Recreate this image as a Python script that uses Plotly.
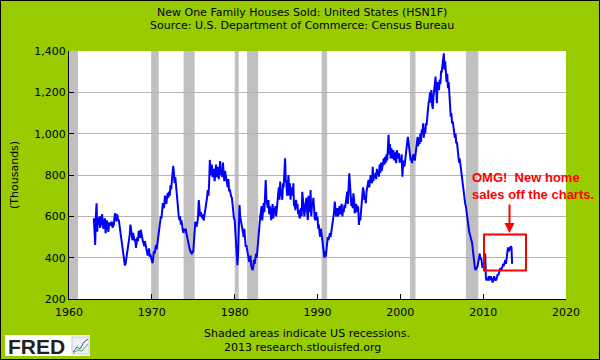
import pandas as pd
import plotly.graph_objects as go

# ---- data (monthly, thousands, SAAR) ----
sales_by_year = {
    1963: [591, 464, 461, 605, 663, 526, 590, 560, 600, 545, 560, 595],
    1964: [610, 560, 540, 575, 590, 518, 560, 580, 555, 525, 560, 570],
    1965: [555, 570, 575, 545, 560, 560, 600, 615, 590, 575, 610, 580],
    1966: [585, 560, 545, 500, 470, 450, 430, 400, 380, 362, 372, 395],
    1967: [400, 430, 470, 490, 510, 560, 530, 500, 485, 520, 500, 480],
    1968: [490, 447, 470, 500, 480, 530, 520, 495, 535, 510, 490, 480],
    1969: [470, 455, 480, 460, 440, 420, 410, 430, 445, 405, 415, 400],
    1970: [385, 373, 400, 430, 420, 445, 460, 440, 470, 485, 500, 530],
    1971: [560, 600, 590, 620, 664, 640, 650, 700, 680, 660, 690, 713],
    1972: [690, 720, 700, 750, 730, 780, 800, 844, 810, 760, 790, 740],
    1973: [700, 660, 640, 600, 582, 600, 560, 580, 545, 530, 520, 540],
    1974: [530, 540, 519, 500, 480, 470, 450, 440, 430, 425, 418, 430],
    1975: [430, 480, 555, 574, 560, 550, 570, 600, 679, 620, 600, 620],
    1976: [600, 590, 610, 580, 600, 620, 650, 660, 690, 727, 700, 760],
    1977: [873, 800, 820, 850, 790, 810, 830, 770, 800, 850, 790, 820],
    1978: [840, 780, 820, 868, 800, 830, 790, 860, 810, 770, 820, 800],
    1979: [790, 760, 740, 780, 720, 730, 700, 695, 690, 650, 600, 590],
    1980: [582, 520, 470, 400, 364, 420, 520, 655, 600, 580, 560, 540],
    1981: [520, 500, 540, 480, 453, 460, 440, 420, 400, 380, 390, 410],
    1982: [360, 345, 340, 355, 390, 370, 390, 420, 400, 450, 480, 520],
    1983: [550, 600, 620, 650, 580, 640, 664, 620, 700, 776, 680, 650],
    1984: [640, 679, 610, 650, 600, 582, 620, 660, 590, 640, 610, 650],
    1985: [600, 630, 680, 700, 740, 680, 768, 700, 720, 680, 760, 740],
    1986: [800, 881, 780, 760, 700, 740, 800, 700, 760, 680, 740, 720],
    1987: [700, 760, 650, 660, 630, 680, 640, 660, 610, 630, 590, 600],
    1988: [640, 600, 719, 680, 650, 600, 640, 660, 690, 620, 582, 700],
    1989: [640, 620, 727, 600, 660, 650, 690, 610, 590, 582, 620, 580],
    1990: [598, 540, 560, 520, 501, 540, 510, 480, 450, 420, 400, 430],
    1991: [405, 440, 480, 500, 485, 510, 518, 500, 520, 550, 580, 600],
    1992: [620, 671, 640, 600, 610, 640, 600, 620, 650, 610, 640, 660],
    1993: [600, 630, 620, 655, 640, 680, 700, 720, 660, 780, 808, 760],
    1994: [700, 650, 690, 640, 711, 680, 615, 640, 660, 620, 650, 640],
    1995: [558, 600, 580, 620, 680, 700, 740, 720, 680, 700, 663, 720],
    1996: [740, 760, 776, 740, 760, 800, 780, 760, 840, 770, 800, 790],
    1997: [810, 780, 830, 800, 820, 792, 850, 810, 860, 820, 840, 870],
    1998: [880, 850, 888, 860, 900, 870, 920, 994, 900, 950, 880, 930],
    1999: [900, 880, 921, 870, 910, 890, 857, 920, 890, 880, 905, 860],
    2000: [880, 860, 900, 792, 850, 870, 840, 880, 900, 920, 960, 985],
    2001: [950, 921, 900, 870, 880, 857, 890, 900, 880, 870, 900, 940],
    2002: [960, 985, 940, 980, 950, 1000, 960, 1020, 1000, 1050, 980, 1030],
    2003: [1000, 1050, 1040, 1090, 1100, 1150, 1160, 1200, 1150, 1211, 1140, 1120],
    2004: [1180, 1200, 1240, 1276, 1200, 1147, 1250, 1230, 1211, 1260, 1240, 1300],
    2005: [1300, 1330, 1370, 1389, 1310, 1350, 1300, 1250, 1290, 1220, 1250, 1180],
    2006: [1150, 1082, 1100, 1050, 1060, 1020, 1000, 980, 1000, 953, 960, 930],
    2007: [900, 860, 880, 850, 808, 780, 760, 720, 700, 680, 660, 647],
    2008: [620, 600, 560, 540, 520, 510, 500, 485, 470, 440, 400, 380],
    2009: [350, 340, 345, 355, 360, 380, 410, 420, 390, 400, 380, 350],
    2010: [360, 350, 400, 420, 300, 290, 300, 290, 310, 290, 300, 310],
    2011: [300, 290, 280, 300, 310, 290, 295, 290, 310, 320, 315, 330],
    2012: [330, 350, 340, 345, 356, 370, 360, 375, 389, 370, 395, 400],
    2013: [450, 430, 440, 453, 455, 450, 370],
}
recession_starts = ["1960-01-01", "1969-12-01", "1973-11-01", "1980-01-01",
                    "1981-07-01", "1990-07-01", "2001-03-01", "2007-12-01"]
recession_ends = ["1961-02-01", "1970-11-01", "1975-03-01", "1980-07-01",
                  "1982-11-01", "1991-03-01", "2001-11-01", "2009-06-01"]
x_tick_years = [1960, 1970, 1980, 1990, 2000, 2010, 2020]
y_ticks = [200, 400, 600, 800, 1000, 1200, 1400]

values = [v for yr in sorted(sales_by_year) for v in sales_by_year[yr]]
dates = pd.date_range("1963-01-01", periods=len(values), freq="MS")

# ---- geometry helpers (pixel -> paper) ----
W, H = 600, 360
PL, PR, PT, PB = 69, 566, 51, 299
def pxx(x):
    return (x - PL) / (PR - PL)
def pxy(y):
    return (PB - y) / (PB - PT)

FONT = "DejaVu Sans"
GREEN = "#99CC00"

fig = go.Figure()
fig.add_trace(go.Scatter(x=dates, y=values, mode="lines",
                         line=dict(color="#0000FF", width=2), hoverinfo="skip"))

shapes = []
for s, e in zip(recession_starts, recession_ends):
    shapes.append(dict(type="rect", xref="x", yref="paper", x0=s, x1=e, y0=0, y1=1,
                       fillcolor="#C0C0C0", line=dict(width=0), layer="between"))
# red box around recent data
shapes.append(dict(type="rect", xref="paper", yref="paper",
                   x0=pxx(484), x1=pxx(526), y0=pxy(270.5), y1=pxy(234.5),
                   line=dict(color="#FF0000", width=2), fillcolor="rgba(0,0,0,0)", layer="above"))
# outer black frame
shapes.append(dict(type="rect", xref="paper", yref="paper",
                   x0=pxx(0.5), x1=pxx(599.5), y0=pxy(359.5), y1=pxy(0.5),
                   line=dict(color="#000000", width=1), layer="above"))
# FRED logo box
shapes.append(dict(type="rect", xref="paper", yref="paper",
                   x0=pxx(5), x1=pxx(90), y0=pxy(356), y1=pxy(335),
                   fillcolor="#FFFFFF", line=dict(width=0), layer="above"))
shapes.append(dict(type="rect", xref="paper", yref="paper",
                   x0=pxx(72), x1=pxx(89), y0=pxy(354), y1=pxy(337),
                   fillcolor="#EEF0F4", line=dict(color="#C8CCD4", width=1), layer="above"))
shapes.append(dict(type="path", xref="paper", yref="paper",
                   path="M {} {} L {} {} L {} {} L {} {} L {} {}".format(
                       pxx(73), pxy(352), pxx(77), pxy(347), pxx(80), pxy(349),
                       pxx(84), pxy(342), pxx(88), pxy(339)),
                   line=dict(color="#3355CC", width=1), layer="above"))
shapes.append(dict(type="path", xref="paper", yref="paper",
                   path="M {} {} L {} {} L {} {} L {} {}".format(
                       pxx(73), pxy(353), pxx(78), pxy(350), pxx(82), pxy(351),
                       pxx(88), pxy(344)),
                   line=dict(color="#66AA33", width=1), layer="above"))

def label(text, x, y, **kw):
    d = dict(text=text, xref="paper", yref="paper", x=pxx(x), y=pxy(y),
             xanchor="center", yanchor="middle", showarrow=False,
             font=dict(family=FONT, size=11, color="#000"))
    d.update(kw)
    return d

annotations = [
    label("New One Family Houses Sold: United States (HSN1F)", 302, 12),
    label("Source: U.S. Department of Commerce: Census Bureau", 302, 26),
    label("(Thousands)", 14, 175, textangle=-90),
    label("Shaded areas indicate US recessions.", 307, 333),
    label("2013 research.stlouisfed.org", 302, 347),
    label("<b>OMG!  New home<br>sales off the charts.</b>", 470, 186,
          xanchor="left", align="left",
          font=dict(family="Liberation Sans", size=13, color="#FF0000")),
    dict(text="", xref="paper", yref="paper", x=pxx(509.5), y=pxy(233),
         ax=0, ay=-30, showarrow=True, arrowhead=2, arrowsize=1, arrowwidth=2,
         arrowcolor="#FF0000"),
    label("<b>FRED</b>", 6, 346, xanchor="left",
          font=dict(family="Liberation Sans", size=21, color="#231F20")),
]

fig.update_layout(
    width=W, height=H,
    margin=dict(l=PL, r=W - PR, t=PT, b=H - PB, pad=0),
    paper_bgcolor=GREEN, plot_bgcolor="#FFFFFF",
    showlegend=False, hovermode=False,
    shapes=shapes, annotations=annotations,
    xaxis=dict(type="date", range=["1960-01-01", "2020-01-01"],
               tickvals=[f"{y}-01-01" for y in x_tick_years],
               ticktext=[str(y) for y in x_tick_years],
               showgrid=False, zeroline=False, showline=True, linecolor="#000", linewidth=1,
               ticks="inside", ticklen=5, tickcolor="#000", ticklabelstandoff=3,
               tickfont=dict(family=FONT, size=11, color="#000")),
    yaxis=dict(range=[200, 1400], tickvals=y_ticks, tickformat=",",
               showgrid=True, gridcolor="#B4B4B4", gridwidth=1, zeroline=False,
               showline=True, linecolor="#000", linewidth=1,
               ticks="inside", ticklen=5, tickcolor="#000",
               tickfont=dict(family=FONT, size=11, color="#000")),
)

fig.write_html("out.html", config={"displayModeBar": False, "staticPlot": True})
with open("out.html", "r", encoding="utf-8") as f:
    html = f.read()
html = html.replace("<head>", "<head><style>html,body{margin:0;padding:0;overflow:hidden;}</style>", 1)
with open("out.html", "w", encoding="utf-8") as f:
    f.write(html)
